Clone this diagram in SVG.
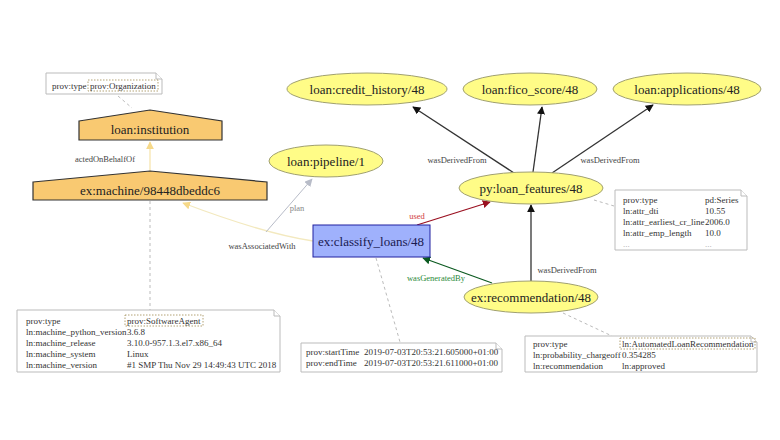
<svg xmlns="http://www.w3.org/2000/svg" width="780" height="440" viewBox="0 0 780 440">
<style>
text{font-family:"Liberation Serif","DejaVu Serif",serif;fill:#222}
.nl{font-size:13px;text-anchor:middle}
.el{font-size:8.5px;fill:#444}
.nt{font-size:9px;fill:#333}
.ent{fill:#fffc87;stroke:#a0a070;stroke-width:1}
.agent{fill:#f9c971;stroke:#333;stroke-width:1.2}
.act{fill:#9fb1fc;stroke:#2020a0;stroke-width:1}
.note{fill:#fff;stroke:#bbb;stroke-width:1}
.dot{fill:none;stroke:#a08a50;stroke-width:0.8;stroke-dasharray:1.5 1.5}
.ann{fill:none;stroke:#bbb;stroke-width:1;stroke-dasharray:3 3}
.e{fill:none}
</style>
<defs>
<marker id="aBlk" viewBox="0 0 10 10" refX="9" refY="5" markerWidth="8" markerHeight="8" markerUnits="userSpaceOnUse" orient="auto"><path d="M0,0 L10,5 L0,10 Z" fill="#111"/></marker>
<marker id="aRed" viewBox="0 0 10 10" refX="9" refY="5" markerWidth="8" markerHeight="8" markerUnits="userSpaceOnUse" orient="auto"><path d="M0,0 L10,5 L0,10 Z" fill="#9a1020"/></marker>
<marker id="aGrn" viewBox="0 0 10 10" refX="9" refY="5" markerWidth="8" markerHeight="8" markerUnits="userSpaceOnUse" orient="auto"><path d="M0,0 L10,5 L0,10 Z" fill="#0b5a20"/></marker>
<marker id="aGry" viewBox="0 0 10 10" refX="9" refY="5" markerWidth="8" markerHeight="8" markerUnits="userSpaceOnUse" orient="auto"><path d="M0,0 L10,5 L0,10 Z" fill="#b8bcc8"/></marker>
<marker id="aYel" viewBox="0 0 10 10" refX="9" refY="5" markerWidth="8" markerHeight="8" markerUnits="userSpaceOnUse" orient="auto"><path d="M0,0 L10,5 L0,10 Z" fill="#f6d98a"/></marker>
</defs>
<rect width="780" height="440" fill="#fff"/>

<g id="connectors">
<line class="ann" x1="118" y1="96" x2="132" y2="108"/>
<line class="ann" x1="150" y1="201" x2="150" y2="310"/>
<line class="ann" x1="376" y1="258" x2="400" y2="342"/>
<line class="ann" x1="594" y1="200" x2="614" y2="206"/>
<line class="ann" x1="563" y1="313" x2="612" y2="336"/>

<line class="e" x1="150" y1="171" x2="150" y2="142" stroke="#f6e3a8" stroke-width="1.2" marker-end="url(#aYel)"/>
<text class="el" x="105" y="162" text-anchor="middle">actedOnBehalfOf</text>

<path class="e" d="M313,241 Q265,234 183,203" stroke="#f3e9bf" stroke-width="1.3" marker-end="url(#aYel)"/>
<text class="el" x="262" y="249" text-anchor="middle">wasAssociatedWith</text>

<line class="e" x1="266" y1="232" x2="312" y2="179" stroke="#b8bcc8" stroke-width="1" marker-end="url(#aGry)"/>
<text class="el" x="297" y="211" text-anchor="middle" style="fill:#888">plan</text>

<line class="e" x1="417" y1="225" x2="490" y2="202" stroke="#9a1020" stroke-width="1.2" marker-end="url(#aRed)"/>
<text class="el" x="417" y="219" text-anchor="middle" style="fill:#d04040">used</text>

<line class="e" x1="492" y1="283" x2="423" y2="258" stroke="#0b5a20" stroke-width="1.2" marker-end="url(#aGrn)"/>
<text class="el" x="436" y="281" text-anchor="middle" style="fill:#2a8a3a">wasGeneratedBy</text>

<line class="e" x1="531" y1="282" x2="531" y2="205" stroke="#333" stroke-width="1.3" marker-end="url(#aBlk)"/>
<text class="el" x="567" y="273" text-anchor="middle">wasDerivedFrom</text>

<line class="e" x1="514" y1="173" x2="413" y2="107" stroke="#333" stroke-width="1.3" marker-end="url(#aBlk)"/>
<line class="e" x1="533" y1="172" x2="542" y2="107" stroke="#333" stroke-width="1.3" marker-end="url(#aBlk)"/>
<line class="e" x1="552" y1="173" x2="653" y2="105" stroke="#333" stroke-width="1.3" marker-end="url(#aBlk)"/>
<text class="el" x="457" y="163" text-anchor="middle">wasDerivedFrom</text>
<text class="el" x="610" y="163" text-anchor="middle">wasDerivedFrom</text>
</g>

<g id="org-note">
<path class="note" d="M46,73 H156 L162,79 V94 H46 Z"/>
<path class="note" d="M156,73 V79 H162" fill="none"/>
<rect class="dot" x="88" y="80" width="70" height="11"/>
<text class="nt" x="52" y="89">prov:type</text>
<text class="nt" x="90" y="89">prov:Organization</text>
</g>

<g id="loan-institution">
<path class="agent" d="M79,121 L150,110 L222,121 V140 H79 Z"/>
<text class="nl" x="150" y="134">loan:institution</text>
</g>

<g id="ex-machine">
<path class="agent" d="M33,182 L150,171 L267,182 V200 H33 Z"/>
<text class="nl" x="150" y="195">ex:machine/98448dbeddc6</text>
</g>

<g id="loan-pipeline">
<ellipse class="ent" cx="326" cy="161" rx="57" ry="16"/>
<text class="nl" x="326" y="166">loan:pipeline/1</text>
</g>

<g id="loan-credit-history">
<ellipse class="ent" cx="367" cy="89" rx="80" ry="16"/>
<text class="nl" x="367" y="94">loan:credit_history/48</text>
</g>

<g id="loan-fico-score">
<ellipse class="ent" cx="530" cy="89" rx="67" ry="16"/>
<text class="nl" x="530" y="94">loan:fico_score/48</text>
</g>

<g id="loan-applications">
<ellipse class="ent" cx="687" cy="89" rx="74" ry="16"/>
<text class="nl" x="687" y="94">loan:applications/48</text>
</g>

<g id="py-loan-features">
<ellipse class="ent" cx="531" cy="188" rx="72" ry="16"/>
<text class="nl" x="531" y="193">py:loan_features/48</text>
</g>

<g id="ex-classify-loans">
<rect class="act" x="313" y="225" width="117" height="32"/>
<text class="nl" x="371" y="246" style="fill:#1a1a50">ex:classify_loans/48</text>
</g>

<g id="ex-recommendation">
<ellipse class="ent" cx="531" cy="297" rx="67" ry="16"/>
<text class="nl" x="531" y="302">ex:recommendation/48</text>
</g>

<g id="features-note">
<path class="note" d="M615,190 H741 L747,196 V250 H615 Z"/>
<path class="note" d="M741,190 V196 H747" fill="none"/>
<text class="nt" x="623" y="203">prov:type</text><text class="nt" x="705" y="203">pd:Series</text>
<text class="nt" x="623" y="214">ln:attr_dti</text><text class="nt" x="705" y="214">10.55</text>
<text class="nt" x="623" y="225">ln:attr_earliest_cr_line</text><text class="nt" x="705" y="225">2006.0</text>
<text class="nt" x="623" y="236">ln:attr_emp_length</text><text class="nt" x="705" y="236">10.0</text>
<text class="nt" x="623" y="247" style="fill:#aaa">...</text><text class="nt" x="705" y="247" style="fill:#aaa">...</text>
</g>

<g id="machine-note">
<path class="note" d="M17,310 H274 L280,316 V372 H17 Z"/>
<path class="note" d="M274,310 V316 H280" fill="none"/>
<rect class="dot" x="125" y="315" width="78" height="11"/>
<text class="nt" x="26" y="324">prov:type</text><text class="nt" x="127" y="324">prov:SoftwareAgent</text>
<text class="nt" x="26" y="335">ln:machine_python_version</text><text class="nt" x="127" y="335">3.6.8</text>
<text class="nt" x="26" y="346">ln:machine_release</text><text class="nt" x="127" y="346">3.10.0-957.1.3.el7.x86_64</text>
<text class="nt" x="26" y="357">ln:machine_system</text><text class="nt" x="127" y="357">Linux</text>
<text class="nt" x="26" y="368">ln:machine_version</text><text class="nt" x="127" y="368">#1 SMP Thu Nov 29 14:49:43 UTC 2018</text>
</g>

<g id="classify-note">
<path class="note" d="M301,343 H496 L502,349 V372 H301 Z"/>
<path class="note" d="M496,343 V349 H502" fill="none"/>
<text class="nt" x="306" y="355">prov:startTime</text><text class="nt" x="364" y="355">2019-07-03T20:53:21.605000+01:00</text>
<text class="nt" x="306" y="366">prov:endTime</text><text class="nt" x="364" y="366">2019-07-03T20:53:21.611000+01:00</text>
</g>

<g id="recommendation-note">
<path class="note" d="M525,336 H751 L757,342 V372 H525 Z"/>
<path class="note" d="M751,336 V342 H757" fill="none"/>
<rect class="dot" x="620" y="338" width="135" height="11"/>
<text class="nt" x="533" y="347">prov:type</text><text class="nt" x="622" y="347">ln:AutomatedLoanRecommendation</text>
<text class="nt" x="533" y="358">ln:probability_chargeoff</text><text class="nt" x="622" y="358">0.354285</text>
<text class="nt" x="533" y="369">ln:recommendation</text><text class="nt" x="622" y="369">ln:approved</text>
</g>
</svg>
